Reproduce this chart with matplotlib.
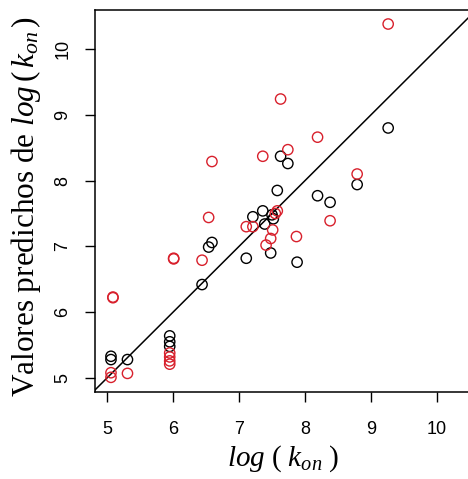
import numpy as np
import matplotlib
matplotlib.use("Agg")
import matplotlib.pyplot as plt

# observed log(kon) and predicted values, two models
x_black = [5.06, 5.06, 5.31, 5.95, 5.95, 5.95, 6.44, 6.54, 6.59, 7.11, 7.21,
           7.36, 7.39, 7.50, 7.52, 7.48, 7.58, 7.63, 7.74, 7.88, 8.19, 8.38,
           8.79, 9.26]
y_black = [5.33, 5.28, 5.28, 5.64, 5.55, 5.48, 6.42, 6.99, 7.06, 6.82, 7.45,
           7.54, 7.34, 7.48, 7.42, 6.90, 7.85, 8.37, 8.26, 6.76, 7.77, 7.67,
           7.94, 8.80]

x_red = [5.06, 5.06, 5.09, 5.09, 5.31, 5.95, 5.95, 5.95, 5.95, 6.01, 6.01,
         6.44, 6.54, 6.59, 7.11, 7.21, 7.36, 7.41, 7.48, 7.51, 7.55, 7.58,
         7.63, 7.74, 7.87, 8.19, 8.38, 8.79, 9.26]
y_red = [5.08, 5.01, 6.22, 6.23, 5.07, 5.38, 5.32, 5.26, 5.21, 6.81, 6.82,
         6.79, 7.44, 8.29, 7.30, 7.30, 8.37, 7.02, 7.12, 7.25, 7.50, 7.54,
         9.24, 8.47, 7.15, 8.66, 7.39, 8.10, 10.38]

xticks = [5, 6, 7, 8, 9, 10]
yticks = [5, 6, 7, 8, 9, 10]

plt.rcParams["mathtext.fontset"] = "custom"
plt.rcParams["mathtext.rm"] = "Liberation Serif"
plt.rcParams["mathtext.it"] = "Liberation Serif:italic"
plt.rcParams["font.family"] = "Liberation Sans"

W, H = 468, 479
fig = plt.figure(figsize=(W / 100, H / 100), dpi=100)
ax = fig.add_axes([95 / W, 87 / H, 382 / W, 382 / H])

ax.scatter(x_black, y_black, s=55, facecolors="none", edgecolors="black", linewidths=1.0, zorder=3)
ax.scatter(x_red, y_red, s=55, facecolors="none", edgecolors="#d8202c", linewidths=1.0, zorder=3)
ax.axline((5, 5), slope=1, color="black", lw=1.1)

ax.set_xlim(4.818, 10.606)
ax.set_ylim(4.787, 10.593)
ax.set_xticks(xticks)
ax.set_yticks(yticks)
ax.set_yticklabels([str(t) for t in yticks], rotation=90, va="center")
ax.tick_params(labelsize=13, length=7, width=1)
ax.tick_params(axis="x", pad=14)
ax.tick_params(axis="y", pad=10)
for s in ax.spines.values():
    s.set_linewidth(1.1)

fig.text(283 / W, 1 - 459 / H, r"$log\ (\ k_{on}\ )$", fontsize=21,
         ha="center", va="center")
fig.text(26 / W, 1 - 207 / H, r"Valores predichos de $log\,(\,k_{on}\,)$",
         fontsize=22.5, family="Liberation Serif", rotation=90,
         ha="center", va="center")

fig.savefig("out.png", dpi=100)
